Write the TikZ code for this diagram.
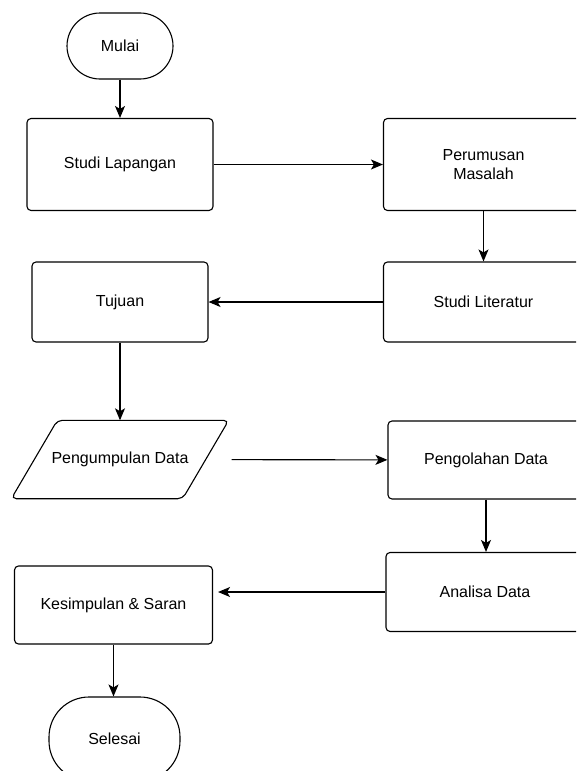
\documentclass[tikz,border=0pt]{standalone}
\usepackage{fontspec}
\setmainfont{Liberation Sans}
\usetikzlibrary{arrows.meta}

\begin{document}
\begin{tikzpicture}[x=1pt,y=-1pt,font=\fontsize{16}{19}\selectfont,
    proc/.style={draw, rounded corners=4pt, line width=1.1pt, align=center, inner sep=0pt},
    term/.style={draw, line width=1.1pt, inner sep=0pt},
    io/.style={inner sep=0pt},
    flow/.style={-{Stealth[length=12pt,width=10pt,inset=3pt]}, line width=1.1pt}]
      \useasboundingbox (0,0) rectangle (576,771);
      \clip (0,0) rectangle (576,771);
      % nodes
      \node[term, rounded corners=33pt, minimum width=106pt, minimum height=66pt] (mulai) at (120,46) {Mulai};
      \node[proc, minimum width=186pt, minimum height=92pt] (lapangan) at (120,164.5) {Studi Lapangan};
      \node[proc, minimum width=200pt, minimum height=92pt] (rumusan) at (483.5,164.5) {Perumusan\\Masalah};
      \node[proc, minimum width=200pt, minimum height=80pt] (literatur) at (483.5,302) {Studi Literatur};
      \node[proc, minimum width=176pt, minimum height=80pt] (tujuan) at (120,302) {Tujuan};
      \node[io, minimum width=171pt, minimum height=78pt] (kumpul) at (120,459.5) {Pengumpulan Data};
      \draw[rounded corners=5pt, line width=1.1pt]
        ([xshift=23pt]kumpul.north west) -- ([xshift=23pt]kumpul.north east)
        -- ([xshift=-23pt]kumpul.south east) -- ([xshift=-23pt]kumpul.south west) -- cycle;
      \node[proc, minimum width=196pt, minimum height=78pt] (olah) at (486,460) {Pengolahan Data};
      \node[proc, minimum width=198pt, minimum height=79pt] (analisa) at (485,592) {Analisa Data};
      \node[proc, minimum width=198pt, minimum height=78pt] (simpul) at (113.5,605) {Kesimpulan \& Saran};
      \node[term, rounded corners=40pt, minimum width=131pt, minimum height=84pt] (selesai) at (114.5,739) {Selesai};
      % connectors
      \draw[flow] (mulai) -- (lapangan);
      \draw[flow] (lapangan) -- (rumusan);
      \draw[flow] (rumusan) -- (literatur);
      \draw[flow] (literatur) -- (tujuan);
      \draw[flow] (tujuan) -- (kumpul);
      \draw[flow, shorten <=26pt] (kumpul) -- (olah);
      \draw[flow] (olah.south) -- (olah.south |- analisa.north);
      \draw[flow, shorten >=5pt] (analisa.west) -- (simpul.east |- analisa.west);
      \draw[flow] (simpul.south) -- (simpul.south |- selesai.north);
\end{tikzpicture}
\end{document}
